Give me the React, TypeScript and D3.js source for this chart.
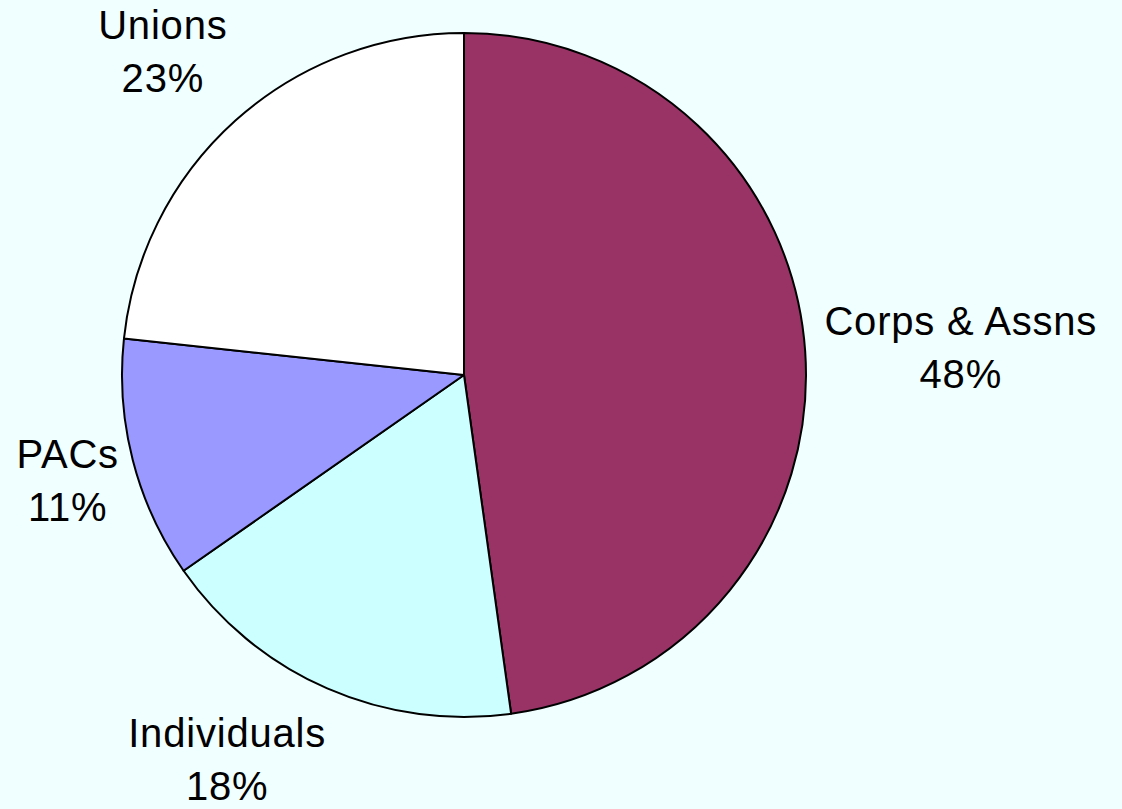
import React from "react";
import * as d3 from "d3";

const categories = ["Corps & Assns", "Individuals", "PACs", "Unions"];
const values = [47.8, 17.5, 11.4, 23.3];
const percentLabels = ["48%", "18%", "11%", "23%"];
const colors = ["#993366", "#CCFFFF", "#9999FF", "#FFFFFF"];

// label placement (polar, relative to pie centre): angle in degrees clockwise from top, radius in px
const labelAngles = [88.4, 210.7, 253.2, 315.8];
const labelRadii = [497, 464, 414, 432];

const W = 1122;
const H = 809;
const CX = 464;
const CY = 375;
const R = 342;
const FONT = 40;
const LINE_GAP = 53;

export default function App() {
  const pie = d3.pie<number>().sort(null).value((d) => d)(values);
  const arc = d3.arc<d3.PieArcDatum<number>>().innerRadius(0).outerRadius(R);

  return (
    <svg
      width={W}
      height={H}
      style={{ position: "absolute", left: 0, top: 0, display: "block" }}
    >
      <rect x={0} y={0} width={W} height={H} fill="#F0FFFF" />
      <g transform={`translate(${CX},${CY})`}>
        {pie.map((p, i) => (
          <path
            key={categories[i]}
            d={arc(p) || ""}
            fill={colors[i]}
            stroke="#000"
            strokeWidth={2}
            strokeLinejoin="round"
          />
        ))}
        {pie.map((p, i) => {
          const [x, y] = d3.pointRadial((labelAngles[i] * Math.PI) / 180, labelRadii[i]);
          return (
            <text
              key={"l" + categories[i]}
              x={x}
              y={y}
              textAnchor="middle"
              fontFamily="'Liberation Sans', Arial, sans-serif"
              fontSize={FONT}
              letterSpacing={0.8}
              fill="#000"
            >
              <tspan x={x} y={y - LINE_GAP / 2}>
                {categories[i]}
              </tspan>
              <tspan x={x} y={y + LINE_GAP / 2}>
                {percentLabels[i]}
              </tspan>
            </text>
          );
        })}
      </g>
    </svg>
  );
}
